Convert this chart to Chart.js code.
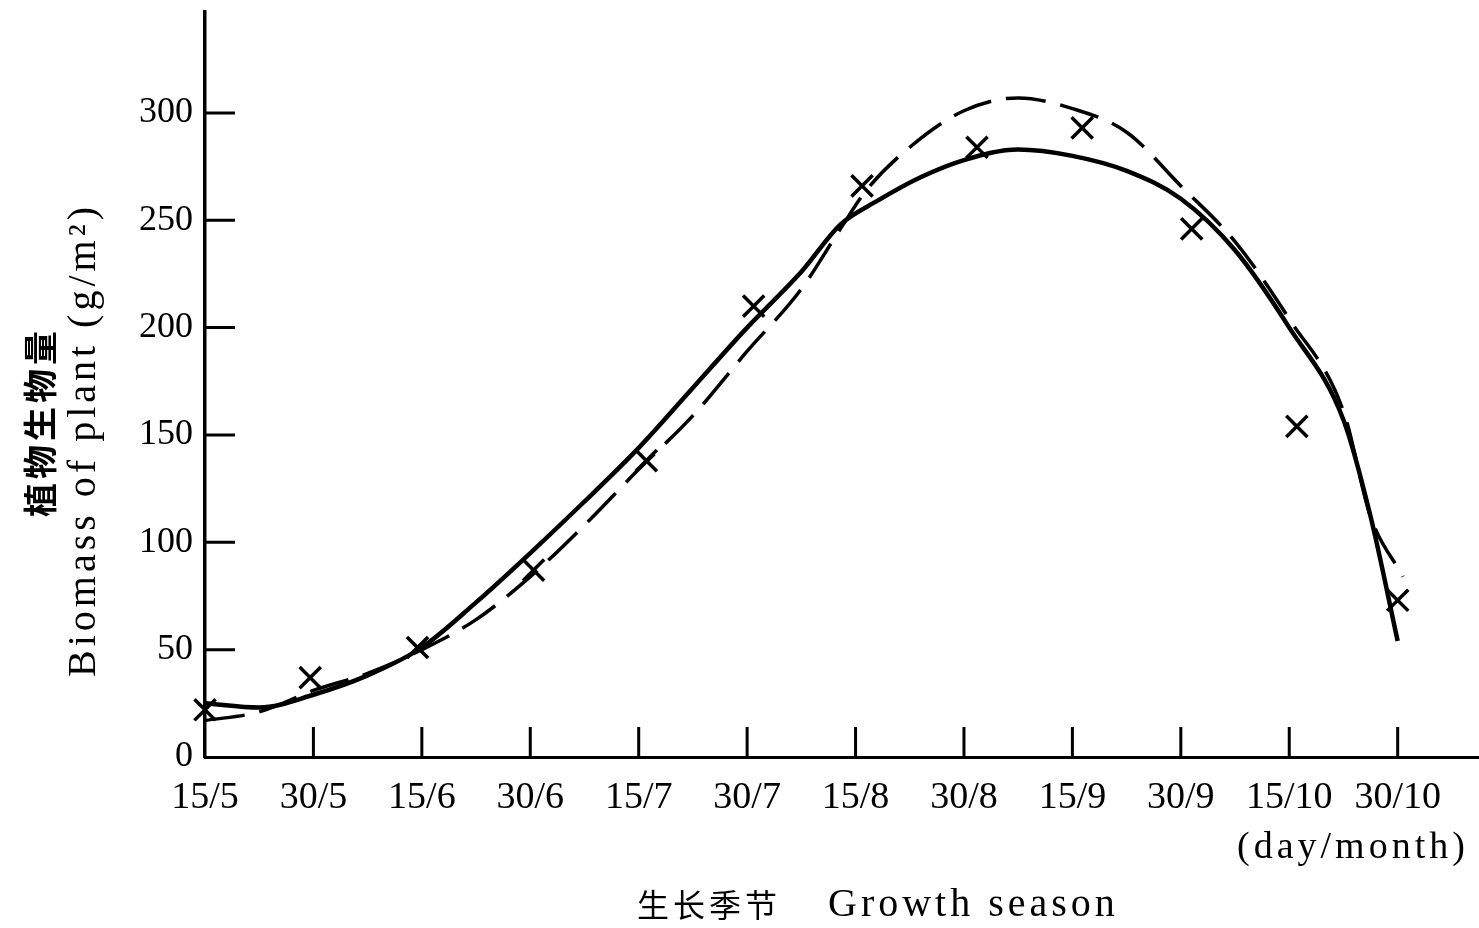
<!DOCTYPE html>
<html>
<head>
<meta charset="utf-8">
<script src="https://cdn.jsdelivr.net/npm/chart.js@4.4.1/dist/chart.umd.min.js"></script>
<style>
  html, body { margin: 0; padding: 0; background: #fff; }
  canvas { display: block; }
</style>
</head>
<body>
<canvas id="biomassChart" width="1479" height="928"></canvas>
<script>
// x positions are in "tick units": 0 = 15/5, 1 = 30/5, ... 11 = 30/10
const dateLabels = ['15/5', '30/5', '15/6', '30/6', '15/7', '30/7', '15/8', '30/8', '15/9', '30/9', '15/10', '30/10'];
const yTicks = [0, 50, 100, 150, 200, 250, 300];

// solid fitted curve
const solidX = [0, 0.5, 1, 1.5, 2, 2.5, 3, 3.5, 4, 4.5, 5, 5.5, 5.86, 6.2, 6.6, 7, 7.5, 8, 8.5, 9, 9.5, 10, 10.5, 10.75, 11];
const solidY = [25, 23, 29, 38, 51, 72, 95, 119, 144, 172, 200, 226, 248, 259, 270, 278, 283, 280, 273, 260, 236, 200, 157, 112, 54];

// dashed fitted curve
const dashedX = [0, 0.5, 1, 1.5, 2, 2.5, 3, 3.5, 4, 4.5, 5, 5.5, 5.86, 6.1, 6.5, 7, 7.5, 8, 8.5, 9, 9.5, 10, 10.5, 10.75, 11.05];
const dashedY = [17, 21, 31, 39, 50, 64, 84, 108, 134, 159, 189, 218, 246, 264, 284, 301, 307, 302, 291, 266, 240, 204, 161, 112, 84];

// measured samples (x marks)
const sampleX = [0, 0.97, 1.96, 3.03, 4.07, 5.06, 6.06, 7.12, 8.09, 9.1, 10.07, 11.0];
const sampleY = [22, 37, 51, 87, 138, 210, 266, 284, 293, 246, 154, 73];

const SERIF = '"Liberation Serif", "DejaVu Serif", serif';
const CJK = '"Noto Sans CJK SC", "Noto Sans", sans-serif';

function toPoints(xs, ys) {
    return xs.map((x, i) => ({ x, y: ys[i] }));
}

const inwardTicks = {
    id: 'inwardTicks',
    afterDraw(chart) {
        const { ctx, chartArea, scales } = chart;
        ctx.save();
        ctx.strokeStyle = '#000';
        ctx.lineWidth = 3;
        ctx.beginPath();
        yTicks.forEach((v) => {
            if (v === 0) return;
            const y = scales.y.getPixelForValue(v);
            ctx.moveTo(chartArea.left, y);
            ctx.lineTo(chartArea.left + 30, y);
        });
        dateLabels.forEach((_, i) => {
            if (i === 0) return;
            const x = scales.x.getPixelForValue(i);
            ctx.moveTo(x, chartArea.bottom);
            ctx.lineTo(x, chartArea.bottom - 30);
        });
        ctx.stroke();
        ctx.restore();
    },
};

function drawText(ctx, text, x, y, font, spacing, align) {
    ctx.font = font;
    ctx.letterSpacing = spacing + 'px';
    ctx.textAlign = align;
    ctx.textBaseline = 'middle';
    ctx.fillText(text, x, y);
}

const axisTitles = {
    id: 'axisTitles',
    afterDraw(chart) {
        const { ctx } = chart;
        ctx.save();
        ctx.fillStyle = '#000';

        ctx.save();
        ctx.translate(40, 422);
        ctx.rotate(-Math.PI / 2);
        drawText(ctx, '植物生物量', 0, 0, `bold 34px ${CJK}`, 4, 'center');
        ctx.restore();

        ctx.save();
        ctx.translate(84, 440);
        ctx.rotate(-Math.PI / 2);
        drawText(ctx, 'Biomass of plant (g/m²)', 0, 0, `40px ${SERIF}`, 4, 'center');
        ctx.restore();

        drawText(ctx, '生长季节', 637, 905, `32px ${CJK}`, 4, 'left');
        drawText(ctx, 'Growth season', 828, 905, `40px ${SERIF}`, 4, 'left');
        drawText(ctx, '(day/month)', 1237, 848, `38px ${SERIF}`, 4, 'left');

        ctx.restore();
    },
};

new Chart(document.getElementById('biomassChart').getContext('2d'), {
    type: 'scatter',
    data: {
        datasets: [
            {
                label: 'solid',
                type: 'line',
                data: toPoints(solidX, solidY),
                borderColor: '#000',
                borderWidth: 4.5,
                pointRadius: 0,
                cubicInterpolationMode: 'monotone',
                fill: false,
                clip: false,
            },
            {
                label: 'dashed',
                type: 'line',
                data: toPoints(dashedX, dashedY),
                borderColor: '#000',
                borderWidth: 3.5,
                borderDash: [40, 15],
                pointRadius: 0,
                cubicInterpolationMode: 'monotone',
                fill: false,
                clip: false,
            },
            {
                label: 'samples',
                data: toPoints(sampleX, sampleY),
                pointStyle: 'crossRot',
                pointRadius: 15,
                borderColor: '#000',
                borderWidth: 3.5,
                showLine: false,
                clip: false,
            },
        ],
    },
    options: {
        responsive: false,
        animation: false,
        devicePixelRatio: 1,
        layout: { autoPadding: false, padding: { top: 12, right: 0, left: 0, bottom: 0 } },
        plugins: {
            legend: { display: false },
            tooltip: { enabled: false },
        },
        scales: {
            x: {
                type: 'linear',
                min: 0,
                max: 11.75,
                grid: { display: false, drawTicks: false },
                border: { color: '#000', width: 3 },
                afterBuildTicks: (s) => { s.ticks = dateLabels.map((_, i) => ({ value: i })); },
                afterFit: (s) => {
                    s.height = 171;
                    s.paddingLeft = 0;
                    s.paddingRight = 0;
                },
                ticks: {
                    color: '#000',
                    font: { family: SERIF, size: 38 },
                    padding: 18,
                    maxRotation: 0,
                    autoSkip: false,
                    callback: (v) => dateLabels[v] ?? '',
                },
            },
            y: {
                min: 0,
                max: 347,
                grid: { display: false, drawTicks: false },
                border: { color: '#000', width: 3.5 },
                afterBuildTicks: (s) => { s.ticks = yTicks.map((v) => ({ value: v })); },
                afterFit: (s) => {
                    s.width = 205;
                    s.paddingTop = 0;
                    s.paddingBottom = 0;
                },
                ticks: {
                    color: '#000',
                    font: { family: SERIF, size: 36 },
                    padding: 12,
                },
            },
        },
    },
    plugins: [inwardTicks, axisTitles],
});
</script>
</body>
</html>
